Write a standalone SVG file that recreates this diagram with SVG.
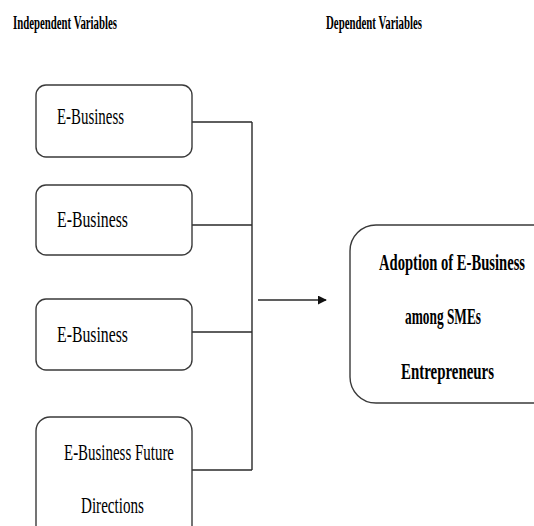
<svg xmlns="http://www.w3.org/2000/svg" width="534" height="526" viewBox="0 0 534 526">
<defs>
<style>
.box{fill:#fff;stroke:#3a3a3a;stroke-width:1.4}
.t{font-family:"Liberation Serif","Times New Roman",serif;fill:#000}
.h{font-size:18px;font-weight:bold}
.n{font-size:23px}
.b{font-size:23px;font-weight:bold}
.ln{fill:none;stroke:#2a2a2a;stroke-width:1.4}
</style>
<marker id="arr" viewBox="0 0 10 10" refX="9" refY="5" markerWidth="9" markerHeight="9" markerUnits="userSpaceOnUse" orient="auto"><path d="M0,0 L10,5 L0,10 z" fill="#111"/></marker>
</defs>
<rect width="534" height="526" fill="#fff"/>
<text class="t h" x="13" y="29" textLength="104" lengthAdjust="spacingAndGlyphs">Independent Variables</text>
<text class="t h" x="326" y="29" textLength="96" lengthAdjust="spacingAndGlyphs">Dependent Variables</text>
<g id="connectors">
<path class="ln" d="M192,122 H252 M192,225 H252 M192,332 H252 M192,470 H252 M252,122 V470"/>
<line class="ln" x1="258" y1="300" x2="326" y2="300" marker-end="url(#arr)"/>
</g>
<g id="n1">
<rect class="box" x="36" y="85" width="156" height="72" rx="10"/>
<text class="t n" x="57" y="124" textLength="67" lengthAdjust="spacingAndGlyphs">E-Business</text>
</g>
<g id="n2">
<rect class="box" x="36" y="185" width="156" height="70" rx="10"/>
<text class="t n" x="57" y="227" textLength="71" lengthAdjust="spacingAndGlyphs">E-Business</text>
</g>
<g id="n3">
<rect class="box" x="36" y="299" width="156" height="71" rx="10"/>
<text class="t n" x="57" y="342" textLength="71" lengthAdjust="spacingAndGlyphs">E-Business</text>
</g>
<g id="n4">
<path class="box" d="M36,530 V431 A14,14 0 0 1 50,417 H178 A14,14 0 0 1 192,431 V530"/>
<text class="t n" x="64" y="460" textLength="110" lengthAdjust="spacingAndGlyphs">E-Business Future</text>
<text class="t n" x="81" y="513" textLength="63" lengthAdjust="spacingAndGlyphs">Directions</text>
</g>
<g id="n5">
<path class="box" d="M536,225 H376 A26,26 0 0 0 350,251 V377 A26,26 0 0 0 376,403 H536"/>
<text class="t b" x="379" y="270" textLength="146" lengthAdjust="spacingAndGlyphs">Adoption of E-Business</text>
<text class="t b" x="405" y="324" textLength="76" lengthAdjust="spacingAndGlyphs">among SMEs</text>
<text class="t b" x="401" y="379" textLength="93" lengthAdjust="spacingAndGlyphs">Entrepreneurs</text>
</g>
</svg>
